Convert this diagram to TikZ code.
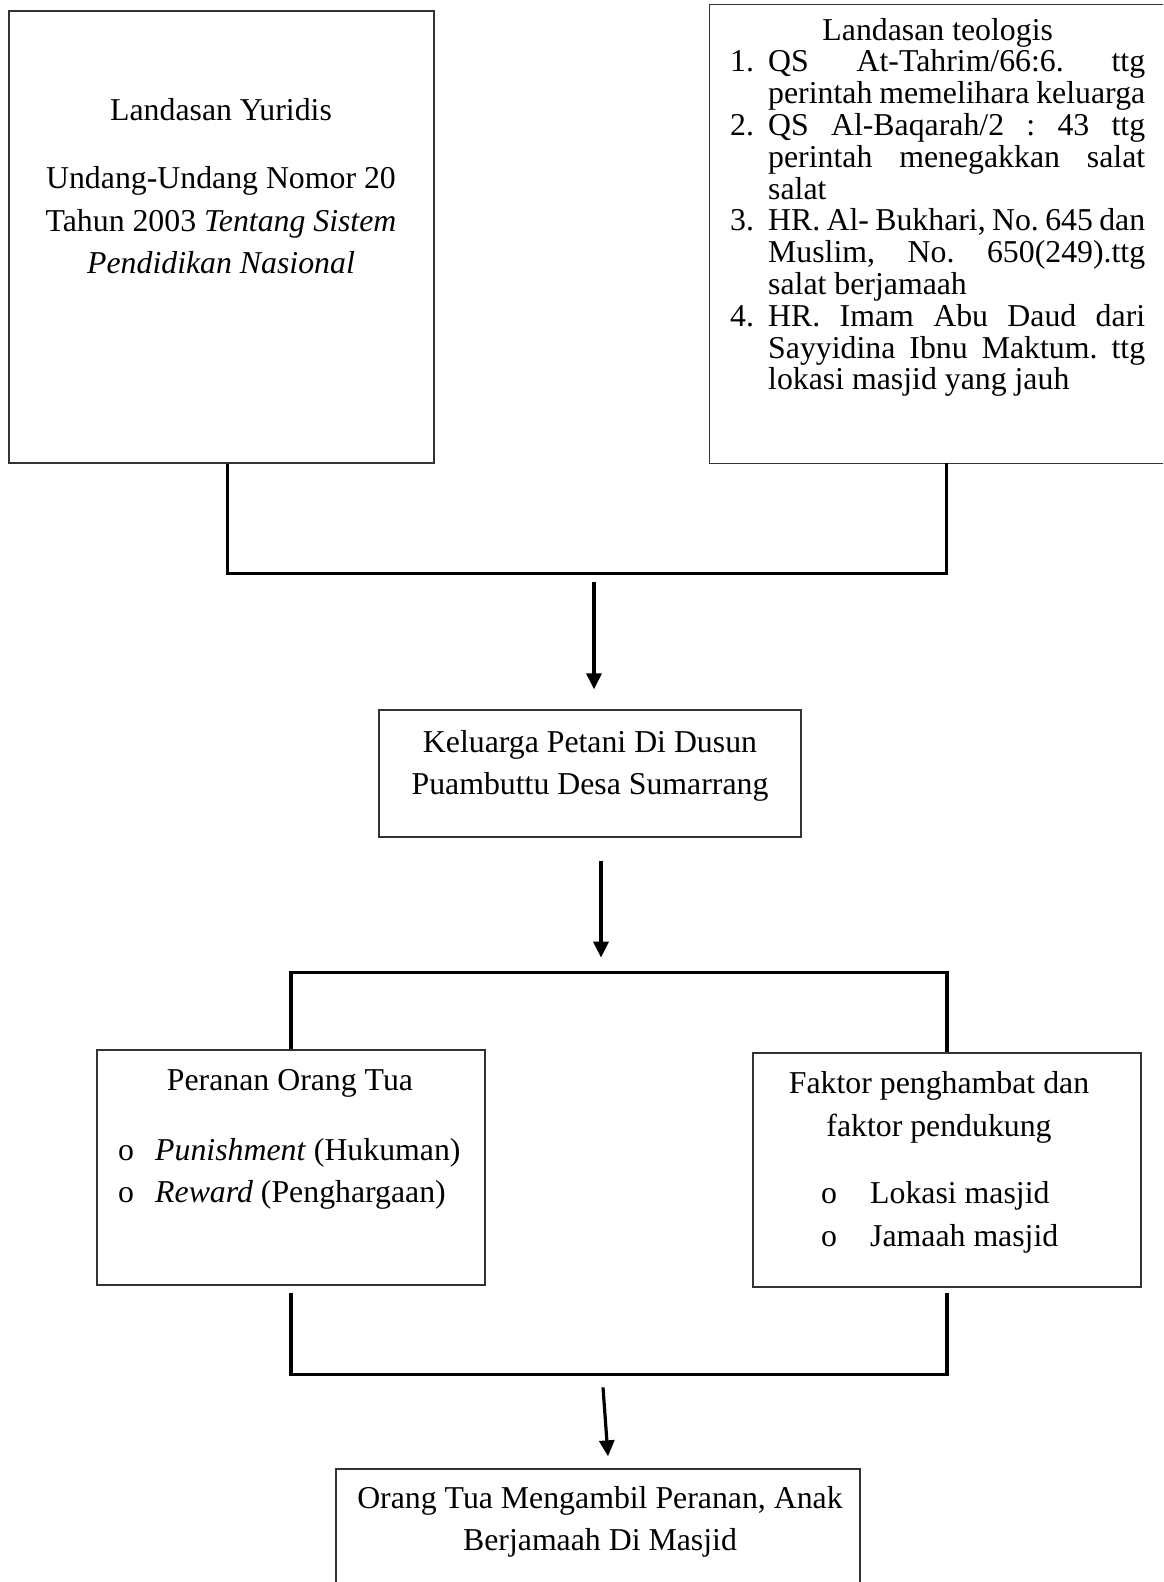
\documentclass[tikz,border=0pt]{standalone}
\usepackage{fontspec}
\setmainfont{Liberation Serif}
\usetikzlibrary{arrows.meta}

\newcommand\teoitem[1]{\par\hangindent=38pt\hangafter=1\noindent\makebox[38pt][l]{#1}}

\tikzset{
  box/.style={draw=black!80, line width=1.3pt, inner sep=0pt},
  boxline/.style={draw=black!80, line width=1.3pt},
  txt/.style={font=\fontsize{31.8}{42}\selectfont, inner sep=0pt, anchor=base},
  bracket/.style={line width=3.2pt},
  flow/.style={line width=3.2pt, -{Triangle[width=15pt,length=16pt]}}
}

\begin{document}
\begin{tikzpicture}[x=1pt,y=-1pt]

\path[use as bounding box, clip] (0,0) rectangle (1163,1582);
\fill[white] (0,0) rectangle (1163,1582);

\node[box, minimum width=425pt, minimum height=452pt] (yuridis) at (221.5,237) {};
\node[inner sep=0pt, minimum width=473pt, minimum height=458pt] (teologis) at (946.5,234) {};
\draw[boxline] (teologis.north east) -- (teologis.north west) -- (teologis.south west) -- (teologis.south east);
\node[box, minimum width=422pt, minimum height=127pt] (keluarga) at (590,773.5) {};
\node[box, minimum width=388pt, minimum height=235pt] (peranan) at (291,1167.5) {};
\node[box, minimum width=388pt, minimum height=234pt] (faktor) at (947,1170) {};
\node[box, minimum width=524pt, minimum height=191pt] (hasil) at (598,1564.5) {};

\node[txt] (yur1) at (221,120) {Landasan Yuridis};
\node[txt] (yur2) at (221,188) {Undang-Undang Nomor 20};
\node[txt] (yur3) at (221,231) {Tahun 2003 \textit{Tentang Sistem}};
\node[txt] (yur4) at (221,273) {\textit{Pendidikan Nasional}};

\node[txt, anchor=base west, text width=415pt, align=justify,
      font=\fontsize{31.8}{31.8}\selectfont] (teo) at (730,40)
{\frenchspacing\hyphenpenalty=10000\exhyphenpenalty=10000
{\centering Landasan teologis\par}
\teoitem{1.}QS At-Tahrim/66:6. ttg\linebreak perintah memelihara keluarga
\teoitem{2.}QS Al-Baqarah/2 : 43 ttg\linebreak perintah menegakkan salat\linebreak salat
\teoitem{3.}HR. Al- Bukhari, No. 645 dan\linebreak Muslim, No. 650(249).ttg\linebreak salat berjamaah
\teoitem{4.}HR. Imam Abu Daud dari\linebreak Sayyidina Ibnu Maktum. ttg\linebreak lokasi masjid yang jauh\par};

\node[txt] (kel1) at (590,752) {Keluarga Petani Di Dusun};
\node[txt] (kel2) at (590,794) {Puambuttu Desa Sumarrang};

\node[txt] (per1) at (290,1090) {Peranan Orang Tua};
\node[txt, anchor=base west] (per2) at (118,1160) {\makebox[37pt][l]{o}\textit{Punishment} (Hukuman)};
\node[txt, anchor=base west] (per3) at (118,1202) {\makebox[37pt][l]{o}\textit{Reward} (Penghargaan)};

\node[txt] (fak1) at (939,1093) {Faktor penghambat dan};
\node[txt] (fak2) at (939,1136) {faktor pendukung};
\node[txt, anchor=base west] (fak3) at (821,1203) {\makebox[49pt][l]{o}Lokasi masjid};
\node[txt, anchor=base west] (fak4) at (821,1246) {\makebox[49pt][l]{o}Jamaah masjid};

\node[txt] (has1) at (600,1508) {Orang Tua Mengambil Peranan, Anak};
\node[txt] (has2) at (600,1550) {Berjamaah Di Masjid};

\draw[bracket] ([xshift=6pt]yuridis.south) -- ++(0,110) -| (teologis.south);
\draw[flow] ([xshift=4pt,yshift=127pt]keluarga.north) -- ([xshift=4pt,yshift=20pt]keluarga.north);
\draw[flow] ([xshift=11pt,yshift=-23pt]keluarga.south) -- ([xshift=11pt,yshift=-120pt]keluarga.south);
\draw[bracket] (peranan.north) -- ++(0,-77) -| (faktor.north);
\draw[bracket] ([yshift=-7pt]peranan.south) -- ++(0,82) -| ([yshift=-5pt]faktor.south);
\draw[flow] ([xshift=5pt,yshift=81pt]hasil.north) -- ([xshift=10pt,yshift=12pt]hasil.north);

\end{tikzpicture}
\end{document}
